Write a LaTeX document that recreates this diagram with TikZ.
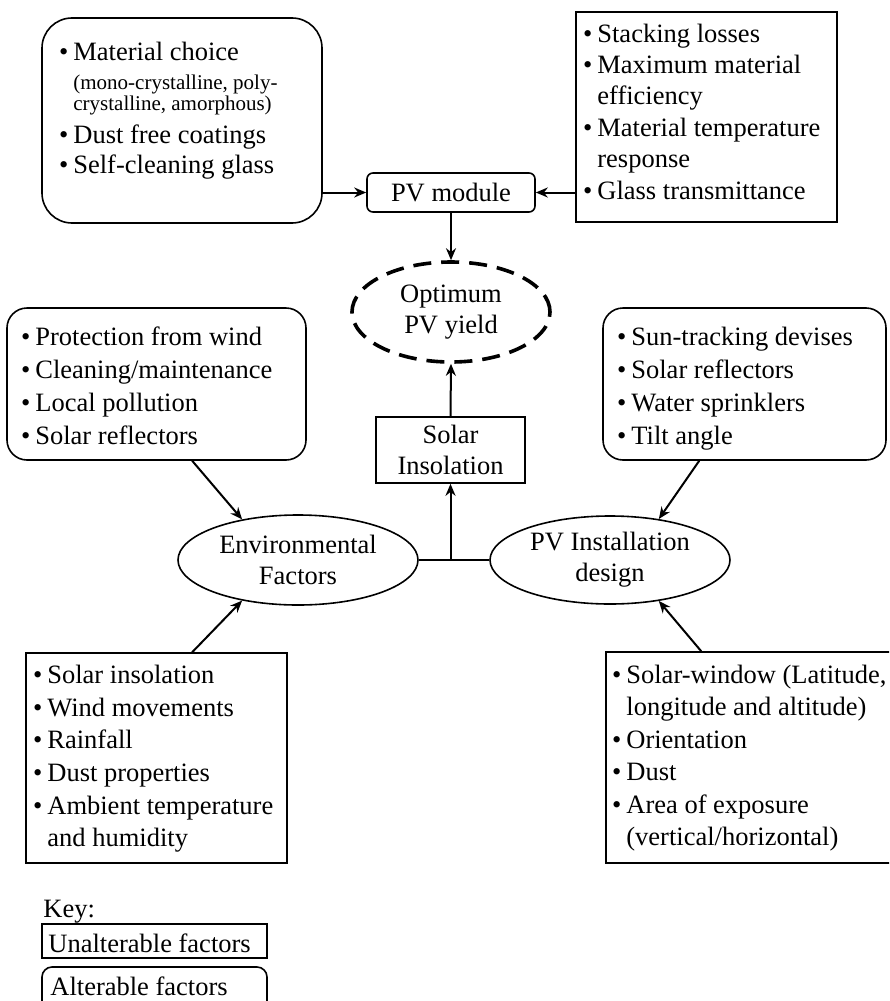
\documentclass[tikz,border=0pt]{standalone}
\usepackage{fontspec}
\setmainfont{Liberation Serif}
\usetikzlibrary{arrows.meta,shapes.geometric}
\tikzset{
  mainfont/.style={font=\fontsize{13.25}{15.5}\selectfont},
  ln/.style={mainfont, inner sep=0pt, anchor=base west},
  sm/.style={font=\fontsize{10.5}{12}\selectfont, inner sep=0pt, anchor=base west},
  ubox/.style={draw, line width=0.8pt, inner sep=0pt},
  abox/.style={ubox, rounded corners=10pt},
  arr/.style={line width=1pt, -{Stealth[length=6pt,width=5pt]}},
  ell/.style={ellipse, draw, line width=0.8pt, inner sep=0pt, mainfont, align=center},
}
\newcommand\bul{\llap{\textbullet\hspace{2.5pt}}}
\begin{document}
\begin{tikzpicture}[x=0.5pt,y=-0.5pt]
\clip (0,0) rectangle (889,1001);
\fill[white] (0,0) rectangle (889,1001);

% top-left alterable box
\node[abox, rounded corners=15pt, minimum width=140pt, minimum height=102.5pt] (tl) at (182,120.5) {};
\node[ln] (tl1) at (73,60) {\bul Material choice};
\node[sm] (tl2) at (73,89) {(mono-crystalline, poly-};
\node[sm] (tl3) at (73,110) {crystalline, amorphous)};
\node[ln] (tl4) at (73,143) {\bul Dust free coatings};
\node[ln] (tl5) at (73,173) {\bul Self-cleaning glass};

% top-right unalterable box
\node[ubox, minimum width=130.5pt, minimum height=105pt] (tr) at (706.5,117) {};
\node[ln] (tr1) at (597,42) {\bul Stacking losses};
\node[ln] (tr2) at (597,73) {\bul Maximum material};
\node[ln] (tr3) at (597,104) {efficiency};
\node[ln] (tr4) at (597,136) {\bul Material temperature};
\node[ln] (tr5) at (597,167) {response};
\node[ln] (tr6) at (597,199) {\bul Glass transmittance};

% PV module
\node[ubox, rounded corners=3pt, minimum width=84pt, minimum height=19.5pt, mainfont] (pv) at (451,192.5) {PV module};

% Optimum PV yield
\node[ell, line width=1.8pt, dash pattern=on 9pt off 5pt, minimum width=99pt, minimum height=50pt] (opt) at (451,312) {Optimum\\PV yield};

% Solar insolation
\node[ubox, mainfont, align=center, minimum width=74.5pt, minimum height=33pt] (sol) at (450.5,450) {Solar\\Insolation};

% ellipses
\node[ell, minimum width=120pt, minimum height=45pt] (env) at (298,560) {Environmental\\Factors};
\node[ell, minimum width=120pt, minimum height=44pt] (pvi) at (610,560) {PV Installation\\design};

% left middle alterable box
\node[abox, minimum width=149.5pt, minimum height=76pt] (lm) at (156.5,384) {};
\node[ln] (lm1) at (35,345) {\bul Protection from wind};
\node[ln] (lm2) at (35,378) {\bul Cleaning/maintenance};
\node[ln] (lm3) at (35,411) {\bul Local pollution};
\node[ln] (lm4) at (35,444) {\bul Solar reflectors};

% right middle alterable box
\node[abox, minimum width=141.5pt, minimum height=76pt] (rm) at (744.5,384) {};
\node[ln] (rm1) at (631,345) {\bul Sun-tracking devises};
\node[ln] (rm2) at (631,378) {\bul Solar reflectors};
\node[ln] (rm3) at (631,411) {\bul Water sprinklers};
\node[ln] (rm4) at (631,444) {\bul Tilt angle};

% bottom-left unalterable box
\node[ubox, minimum width=130.5pt, minimum height=105pt] (bl) at (156.5,758) {};
\node[ln] (bl1) at (47,683) {\bul Solar insolation};
\node[ln] (bl2) at (47,716) {\bul Wind movements};
\node[ln] (bl3) at (47,748) {\bul Rainfall};
\node[ln] (bl4) at (47,781) {\bul Dust properties};
\node[ln] (bl5) at (47,814) {\bul Ambient temperature};
\node[ln] (bl6) at (47,846) {and humidity};

% bottom-right unalterable box
\node[ubox, minimum width=147pt, minimum height=105.5pt] (br) at (753,757.5) {};
\node[ln] (br1) at (626,683) {\bul Solar-window (Latitude,};
\node[ln] (br2) at (626,715) {longitude and altitude)};
\node[ln] (br3) at (626,748) {\bul Orientation};
\node[ln] (br4) at (626,780) {\bul Dust};
\node[ln] (br5) at (626,813) {\bul Area of exposure};
\node[ln] (br6) at (626,845) {(vertical/horizontal)};

% key
\node[ln] (key) at (43,917) {Key:};
\node[ubox, minimum width=112.5pt, minimum height=17pt] (ku) at (154.5,941) {};
\node[ln] (kut) at (48,952) {Unalterable factors};
\node[abox, rounded corners=5pt, minimum width=112.5pt, minimum height=22.5pt] (ka) at (154.5,989.5) {};
\node[ln] (kat) at (50,995) {Alterable factors};

% connectors
\draw[arr] (tl.east |- pv.west) -- (pv.west);
\draw[arr] (tr.west |- pv.east) -- (pv.east);
\draw[arr] (pv.south) -- (opt.north);
\draw[arr] (sol.north) -- (opt.south);
\draw[line width=0.8pt] (env.east) -- (pvi.west);
\draw[arr] (sol.south |- env.east) -- (sol.south);
\draw[arr] ([xshift=93pt]lm.south west) -- (env.144);
\draw[arr] ([xshift=83.5pt]bl.north west) -- (env.216);
\draw[arr] ([xshift=48.5pt]rm.south west) -- (pvi.40);
\draw[arr] ([xshift=48pt]br.north west) -- (pvi.-40);
\end{tikzpicture}
\end{document}
